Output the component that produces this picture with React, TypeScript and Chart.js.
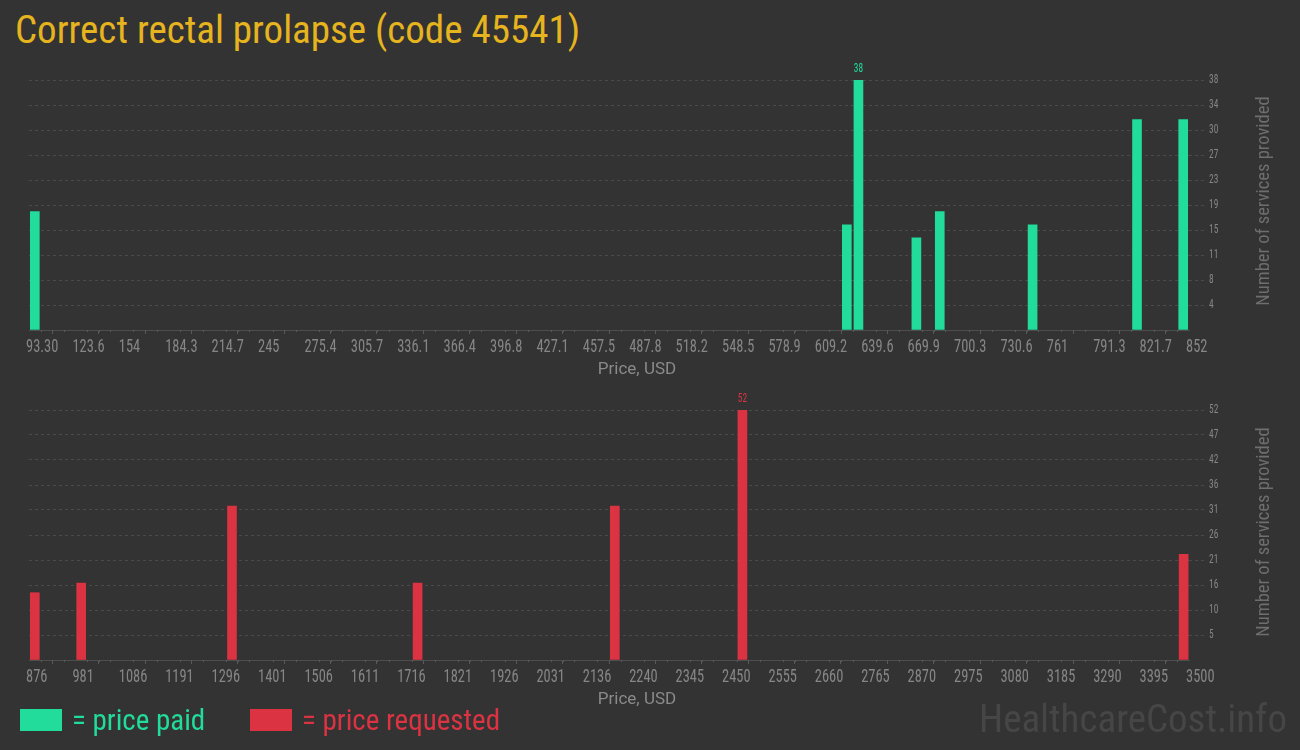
import React, { useEffect, useRef } from "react";
import { Chart, registerables } from "chart.js";

Chart.register(...registerables);

// ---- Data ----
const paidPrices = [97.1, 628.2, 635.8, 673.7, 689.0, 749.7, 818.0, 848.2];
const paidCounts = [18, 16, 38, 14, 18, 16, 32, 32];
const paidMin = 93.3;
const paidMax = 852;
const paidTickLabels = [
  "93.30", "123.6", "154", "184.3", "214.7", "245", "275.4", "305.7", "336.1",
  "366.4", "396.8", "427.1", "457.5", "487.8", "518.2", "548.5", "578.9", "609.2",
  "639.6", "669.9", "700.3", "730.6", "761", "791.3", "821.7", "852",
];

const requestedPrices = [889.1, 994.1, 1335.2, 1755.0, 2201.1, 2489.8, 3487.9];
const requestedCounts = [14, 16, 32, 16, 32, 52, 22];
const requestedMin = 876;
const requestedMax = 3500;
const requestedTickLabels = [
  "876", "981", "1086", "1191", "1296", "1401", "1506", "1611", "1716", "1821",
  "1926", "2031", "2136", "2240", "2345", "2450", "2555", "2660", "2765", "2870",
  "2975", "3080", "3185", "3290", "3395", "3500",
];

const BIN_COUNT = 100;
const GREEN = "#21dc9b";
const RED = "#dc3343";
const BG = "#333333";
const TICK_COLOR = "#868686";
const COND = "'Roboto Condensed', 'DejaVu Sans Condensed', 'Liberation Sans Narrow', 'Arial Narrow', Roboto, sans-serif";

function drawNarrow(ctx: any, text: string, x: number, y: number, squeeze: number) {
  ctx.save();
  ctx.translate(x, y);
  ctx.scale(squeeze, 1);
  ctx.fillText(text, 0, 0);
  ctx.restore();
}

function makeConfig(
  prices: number[],
  counts: number[],
  min: number,
  max: number,
  tickLabels: string[],
  color: string
): any {
  const maxCount = Math.max(...counts);
  const yStep = maxCount / 10;
  const xStep = (max - min) / (tickLabels.length - 1);
  const binWidth = (max - min) / BIN_COUNT;

  const axisLabels = {
    id: "axisLabels",
    afterDraw(chart: any) {
      const xs = chart.scales.x;
      const ys = chart.scales.y;
      const ctx = chart.ctx;
      ctx.save();
      // minor ticks (one per histogram bin)
      ctx.strokeStyle = "#5a5a5a";
      ctx.lineWidth = 1;
      for (let i = 0; i <= BIN_COUNT; i++) {
        if (i % 4 === 0) continue;
        const px = Math.round(xs.getPixelForValue(min + i * binWidth)) + 0.5;
        ctx.beginPath();
        ctx.moveTo(px, xs.top);
        ctx.lineTo(px, xs.top + 2);
        ctx.stroke();
      }
      // x tick labels
      ctx.fillStyle = TICK_COLOR;
      ctx.font = `19px ${COND}`;
      ctx.textAlign = "left";
      ctx.textBaseline = "alphabetic";
      xs.ticks.forEach((t: any, i: number) => {
        drawNarrow(ctx, tickLabels[i], xs.getPixelForValue(t.value) - 3, xs.top + 22, 0.76);
      });
      // y tick labels
      ctx.font = `12.5px ${COND}`;
      ctx.textBaseline = "middle";
      ys.ticks.forEach((t: any) => {
        if (t.value === 0) return;
        drawNarrow(ctx, String(Math.round(t.value)), ys.left + 20, ys.getPixelForValue(t.value), 0.75);
      });
      ctx.restore();
    },
  };

  const maxLabel = {
    id: "maxLabel",
    afterDatasetsDraw(chart: any) {
      const meta = chart.getDatasetMeta(0);
      const idx = counts.indexOf(maxCount);
      const el = meta.data[idx];
      if (!el) return;
      const ctx = chart.ctx;
      ctx.save();
      ctx.fillStyle = color;
      ctx.font = `12.5px ${COND}`;
      ctx.textAlign = "center";
      ctx.textBaseline = "alphabetic";
      drawNarrow(ctx, String(maxCount), el.x, el.y - 8, 0.75);
      ctx.restore();
    },
  };

  return {
    type: "bar",
    data: {
      datasets: [
        {
          data: prices.map((p, i) => ({ x: p, y: counts[i] })),
          backgroundColor: color,
          borderWidth: 0,
          barThickness: 9,
        },
      ],
    },
    options: {
      animation: false,
      responsive: false,
      maintainAspectRatio: false,
      layout: { padding: { left: 29, top: 25, right: 0, bottom: 0 } },
      plugins: { legend: { display: false }, tooltip: { enabled: false } },
      scales: {
        x: {
          type: "linear",
          min,
          max,
          offset: false,
          afterBuildTicks(scale: any) {
            scale.ticks = tickLabels.map((_, i) => ({ value: min + i * xStep }));
          },
          afterFit(scale: any) {
            scale.height = 55;
          },
          ticks: { display: false, autoSkip: false, maxRotation: 0 },
          grid: {
            drawOnChartArea: false,
            drawTicks: true,
            tickLength: 4,
            tickColor: "#5a5a5a",
          },
          border: { display: true, color: "#4e4e4e", width: 1 },
        },
        y: {
          position: "right",
          min: 0,
          max: maxCount,
          afterBuildTicks(scale: any) {
            const t = [];
            for (let i = 0; i <= 10; i++) t.push({ value: i * yStep });
            scale.ticks = t;
          },
          afterFit(scale: any) {
            scale.width = 111;
          },
          ticks: { display: false },
          grid: {
            color: (c: any) => (c.tick && c.tick.value === 0 ? "rgba(0,0,0,0)" : "#4a4a4a"),
            tickColor: (c: any) => (c.tick && c.tick.value === 0 ? "rgba(0,0,0,0)" : "#4a4a4a"),
            tickLength: 17,
            tickBorderDash: [3, 3],
            lineWidth: 1,
          },
          border: { display: false, dash: [3, 3] },
        },
      },
    },
    plugins: [axisLabels, maxLabel],
  };
}

function BarCanvas(props: { config: () => any; top: number }) {
  const ref = useRef<HTMLCanvasElement | null>(null);
  useEffect(() => {
    if (!ref.current) return;
    const chart = new Chart(ref.current, props.config());
    return () => chart.destroy();
  }, []);
  return (
    <canvas
      ref={ref}
      width={1300}
      height={330}
      style={{ position: "absolute", left: 0, top: props.top, width: 1300, height: 330 }}
    />
  );
}

export default function App() {
  return (
    <div
      style={{
        position: "fixed",
        left: 0,
        top: 0,
        width: 1300,
        height: 750,
        background: BG,
        overflow: "hidden",
        fontFamily: COND,
      }}
    >
      <div
        style={{
          position: "absolute",
          left: 15,
          top: 6,
          fontSize: 39,
          lineHeight: "48px",
          color: "#e6b41e",
          whiteSpace: "nowrap",
        }}
      >
        Correct rectal prolapse (code 45541)
      </div>

      <BarCanvas
        top={55}
        config={() => makeConfig(paidPrices, paidCounts, paidMin, paidMax, paidTickLabels, GREEN)}
      />
      <BarCanvas
        top={385}
        config={() =>
          makeConfig(requestedPrices, requestedCounts, requestedMin, requestedMax, requestedTickLabels, RED)
        }
      />

      {[368, 698].map((y) => (
        <div
          key={y}
          style={{
            position: "absolute",
            left: 537,
            width: 200,
            top: y - 11,
            height: 22,
            lineHeight: "22px",
            textAlign: "center",
            fontSize: 17,
            color: "#8a8a8a",
            fontFamily: "Roboto, sans-serif",
          }}
        >
          Price, USD
        </div>
      ))}

      {[201, 532].map((y) => (
        <div
          key={y}
          style={{
            position: "absolute",
            left: 1263 - 150,
            top: y - 12,
            width: 300,
            height: 24,
            lineHeight: "24px",
            textAlign: "center",
            fontSize: 18.5,
            color: "#6e6e6e",
            transform: "rotate(-90deg)",
            whiteSpace: "nowrap",
          }}
        >
          Number of services provided
        </div>
      ))}

      <div style={{ position: "absolute", left: 20, top: 709, width: 42, height: 22, background: GREEN }} />
      <div
        style={{ position: "absolute", left: 72, top: 703, fontSize: 29, lineHeight: "34px", color: GREEN, whiteSpace: "nowrap" }}
      >
        = price paid
      </div>
      <div style={{ position: "absolute", left: 250, top: 709, width: 42, height: 22, background: RED }} />
      <div
        style={{ position: "absolute", left: 302, top: 703, fontSize: 29, lineHeight: "34px", color: RED, whiteSpace: "nowrap" }}
      >
        = price requested
      </div>

      <div
        style={{
          position: "absolute",
          right: 13,
          top: 697,
          fontSize: 39,
          lineHeight: "44px",
          color: "#464646",
          whiteSpace: "nowrap",
        }}
      >
        HealthcareCost.info
      </div>
    </div>
  );
}
